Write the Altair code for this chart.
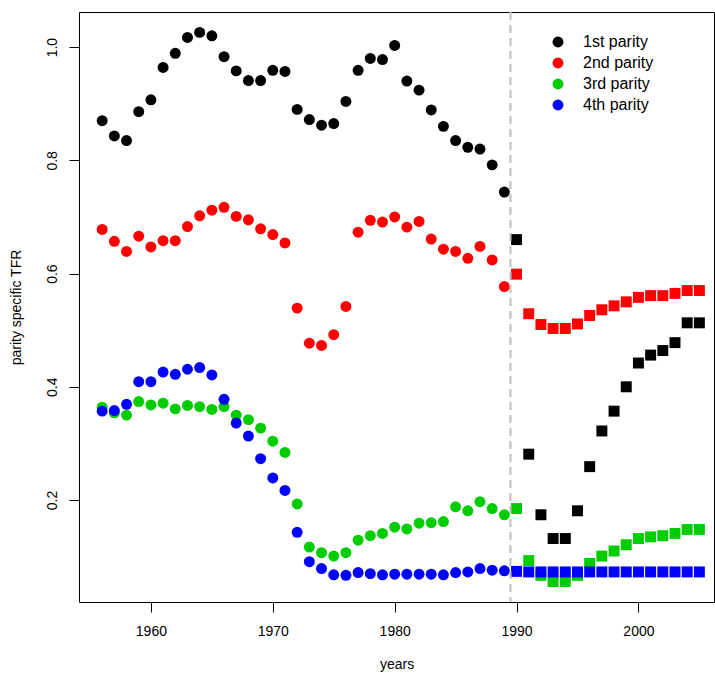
import altair as alt
import pandas as pd

years = list(range(1956, 2006))

p1 = [0.870, 0.843, 0.835, 0.886, 0.907, 0.964, 0.989, 1.017, 1.026, 1.020,
      0.983, 0.958, 0.941, 0.941, 0.959, 0.957, 0.890, 0.872, 0.862, 0.865,
      0.904, 0.959, 0.980, 0.978, 1.003, 0.940, 0.924, 0.889, 0.860, 0.835,
      0.823, 0.820, 0.792, 0.744,
      0.660, 0.281, 0.174, 0.132, 0.132, 0.181, 0.259, 0.322, 0.357, 0.400,
      0.442, 0.456, 0.464, 0.478, 0.513, 0.513]
p2 = [0.678, 0.657, 0.639, 0.666, 0.647, 0.658, 0.658, 0.683, 0.702, 0.712,
      0.717, 0.701, 0.695, 0.679, 0.669, 0.654, 0.539, 0.477, 0.473, 0.492,
      0.542, 0.673, 0.694, 0.691, 0.700, 0.682, 0.692, 0.661, 0.643, 0.639,
      0.627, 0.648, 0.624, 0.577,
      0.599, 0.529, 0.510, 0.503, 0.503, 0.511, 0.526, 0.536, 0.543, 0.550,
      0.558, 0.561, 0.561, 0.565, 0.570, 0.570]
p3 = [0.364, 0.354, 0.350, 0.374, 0.368, 0.371, 0.361, 0.367, 0.365, 0.360,
      0.365, 0.350, 0.342, 0.327, 0.304, 0.284, 0.193, 0.117, 0.107, 0.101,
      0.107, 0.129, 0.137, 0.141, 0.152, 0.149, 0.159, 0.160, 0.162, 0.188,
      0.181, 0.197, 0.185, 0.174,
      0.185, 0.093, 0.067, 0.056, 0.056, 0.067, 0.088, 0.101, 0.110, 0.121,
      0.132, 0.135, 0.137, 0.141, 0.148, 0.148]
p4 = [0.357, 0.358, 0.369, 0.409, 0.409, 0.426, 0.422, 0.431, 0.434, 0.421,
      0.378, 0.336, 0.313, 0.273, 0.239, 0.217, 0.143, 0.091, 0.079, 0.068,
      0.067, 0.072, 0.070, 0.068, 0.069, 0.069, 0.069, 0.069, 0.068, 0.072,
      0.073, 0.079, 0.076, 0.075,
      0.074, 0.073, 0.073, 0.073, 0.073, 0.073, 0.073, 0.073, 0.073, 0.073,
      0.073, 0.073, 0.073, 0.073, 0.073, 0.073]

series_names = ["1st parity", "2nd parity", "3rd parity", "4th parity"]
series_colors = ["#000000", "#FF0000", "#00CD00", "#0000FF"]
first_projection_year = 1990
cutoff_year = [1989.5]
x_ticks = [1960, 1970, 1980, 1990, 2000]
y_ticks = [0.2, 0.4, 0.6, 0.8, 1.0]

rows = []
for name, vals in zip(series_names, [p1, p2, p3, p4]):
    for yr, v in zip(years, vals):
        rows.append({"year": yr, "tfr": v, "parity": name,
                     "kind": "obs" if yr < first_projection_year else "proj"})
df = pd.DataFrame(rows)

xscale = alt.Scale(domain=[1954.1, 2006.2], nice=False, zero=False)
yscale = alt.Scale(domain=[0.0199, 1.062], nice=False, zero=False)

font = "Liberation Sans"

points = alt.Chart(df).mark_point(filled=True, opacity=1, size=120).encode(
    x=alt.X("year:Q", scale=xscale,
            axis=alt.Axis(values=x_ticks, title="years", format="d",
                          grid=False, domain=False, tickSize=10,
                          tickColor="#000", labelFontSize=14, labelFont=font,
                          labelColor="#000", labelPadding=12,
                          titleFont=font, titleFontSize=14,
                          titleFontWeight="normal", titleColor="#000",
                          titlePadding=19)),
    y=alt.Y("tfr:Q", scale=yscale,
            axis=alt.Axis(values=y_ticks, title="parity specific TFR",
                          format=".1f", grid=False, domain=False, tickSize=10,
                          tickColor="#000", labelFontSize=14, labelFont=font,
                          labelColor="#000", labelAngle=270,
                          labelAlign="center", labelBaseline="bottom",
                          labelPadding=10,
                          titleFont=font, titleFontSize=14,
                          titleFontWeight="normal", titleColor="#000",
                          titlePadding=22)),
    color=alt.Color("parity:N",
                    scale=alt.Scale(domain=series_names, range=series_colors),
                    legend=alt.Legend(title=None, orient="none",
                                      legendX=471, legendY=22,
                                      symbolType="circle", symbolSize=120,
                                      symbolStrokeWidth=0,
                                      labelFontSize=16, labelFont=font,
                                      labelColor="#000", labelOffset=17,
                                      rowPadding=5, padding=0)),
    shape=alt.Shape("kind:N",
                    scale=alt.Scale(domain=["obs", "proj"],
                                    range=["circle", "square"]),
                    legend=None),
)

rule = alt.Chart(pd.DataFrame({"x": cutoff_year})).mark_rule(
    color="#BEBEBE", strokeWidth=2, strokeDash=[8, 5]
).encode(x=alt.X("x:Q", scale=xscale))

chart = alt.layer(points, rule).properties(
    width=635, height=590,
    padding={"left": 79, "top": 12, "right": 1, "bottom": 73},
    autosize=alt.AutoSizeParams(type="none"),
).configure_view(stroke="#000", strokeWidth=1)

chart.save("out.html", embed_options={"renderer": "svg", "actions": False})
